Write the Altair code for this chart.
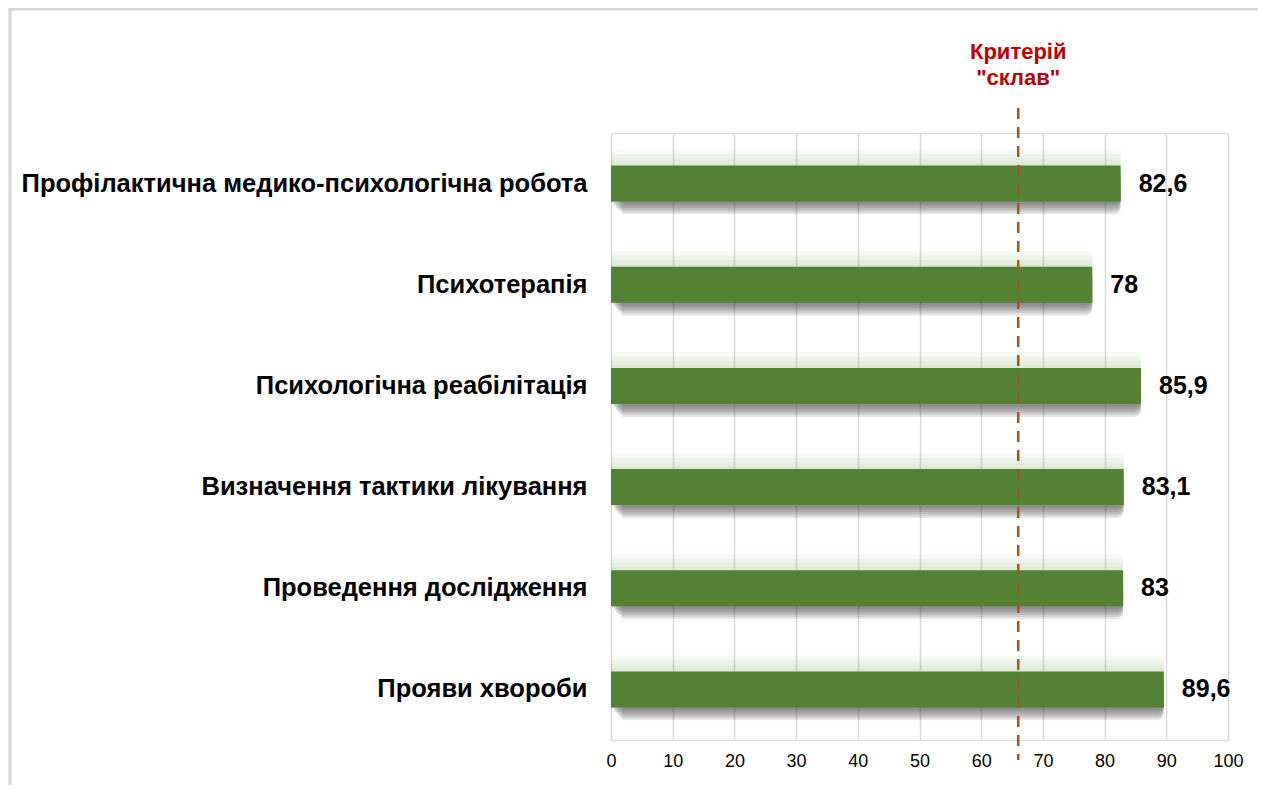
import altair as alt
import pandas as pd

categories = [
    "Профілактична медико-психологічна робота",
    "Психотерапія",
    "Психологічна реабілітація",
    "Визначення тактики лікування",
    "Проведення дослідження",
    "Прояви хвороби",
]
values = [82.6, 78, 85.9, 83.1, 83, 89.6]
labels = ["82,6", "78", "85,9", "83,1", "83", "89,6"]
criterion = 66
criterion_text = ["Критерій", '"склав"']

df = pd.DataFrame({"cat": categories, "val": values, "lab": labels})
crit_df = pd.DataFrame({"c": [criterion]})

W, H = 617, 607
FONT = "Liberation Sans"
BAR_H = 36

x_scale = alt.Scale(domain=[0, 100])
y_enc = alt.Y("cat:N", sort=categories, scale=alt.Scale(paddingInner=0.64, paddingOuter=0.32),
              axis=alt.Axis(title=None, labelFont=FONT, labelFontSize=25.5, labelFontWeight="bold",
                            labelColor="#000000", labelPadding=24, ticks=False, domain=False,
                            labelLimit=800))
x_enc = alt.X("val:Q", scale=x_scale,
              axis=alt.Axis(title=None, values=list(range(0, 101, 10)), labelFont=FONT,
                            labelFontSize=18, labelColor="#000000", labelPadding=12,
                            labelFlush=False, ticks=False, domain=False, grid=True,
                            gridColor="#d9d9d9", gridWidth=1.5))
x_plain = alt.X("val:Q", scale=x_scale)
y_plain = alt.Y("cat:N", sort=categories)

frame = alt.Chart(crit_df).mark_rect(fill=None, stroke="#d6d6d6", strokeWidth=3, clip=False).encode(
    x=alt.value(-601), x2=alt.value(653), y=alt.value(-124), y2=alt.value(700)
)

shadows = []
for off in [14, 12, 10, 8, 6, 4]:
    shadows.append(
        alt.Chart(df).mark_bar(color="#303030", opacity=0.12, xOffset=off - 3, yOffset=off - 2,
                               height=BAR_H + 2, cornerRadius=7).encode(x=x_plain, y=y_plain)
    )
glows = []
for k in [16, 11, 7, 3]:
    glows.append(
        alt.Chart(df).mark_bar(color="#8fb06e", opacity=0.08, height=BAR_H + k, yOffset=-k / 2).encode(
            x=x_plain, y=y_plain)
    )

bars = alt.Chart(df).mark_bar(color="#548235", height=BAR_H).encode(x=x_enc, y=y_enc)

text = alt.Chart(df).mark_text(align="left", dx=18, font=FONT, fontSize=25, fontWeight="bold",
                               color="#000000").encode(x=x_plain, y=y_plain, text="lab:N")

rule = alt.Chart(crit_df).mark_rule(color="#A0581E", strokeWidth=2.5, strokeDash=[11, 8],
                                    clip=False).encode(
    x=alt.X("c:Q", scale=x_scale), y=alt.value(-25), y2=alt.value(627)
)

ann1 = alt.Chart(crit_df).mark_text(font=FONT, fontSize=22, fontWeight="bold", color="#C00000",
                                    text=criterion_text[0]).encode(
    x=alt.X("c:Q", scale=x_scale), y=alt.value(-81)
)
ann2 = alt.Chart(crit_df).mark_text(font=FONT, fontSize=22, fontWeight="bold", color="#C00000",
                                    text=criterion_text[1]).encode(
    x=alt.X("c:Q", scale=x_scale), y=alt.value(-55)
)

chart = alt.layer(frame, *glows, *shadows, bars, rule, text, ann1, ann2).properties(
    width=W, height=H,
    autosize=alt.AutoSizeParams(type="none"),
    padding={"left": 603, "top": 125, "right": 30, "bottom": 45},
).configure_view(stroke=None).configure(background="#ffffff")

chart.save("out.html", embed_options={"renderer": "svg", "actions": False})
